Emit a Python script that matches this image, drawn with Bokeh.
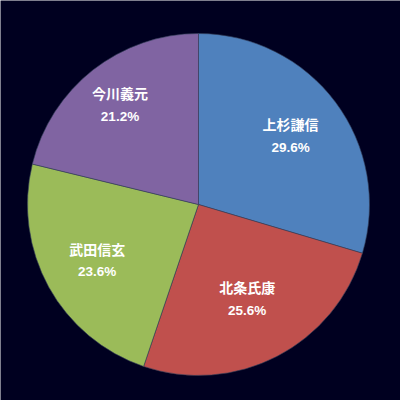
import numpy as np
from bokeh.plotting import figure
from bokeh.models import ColumnDataSource, Range1d
from bokeh.core.properties import value
from bokeh.embed import file_html
from bokeh.resources import INLINE

names = ["上杉謙信", "北条氏康", "武田信玄", "今川義元"]
shares = [29.6, 25.6, 23.6, 21.2]
colors = ["#4F81BD", "#C0504D", "#9BBB59", "#8064A2"]
pct_labels = ["29.6%", "25.6%", "23.6%", "21.2%"]

# layout / style
BG = "#000020"
W = H = 400
R_PX = 171.0
CX, CY = 198.0, 204.0  # pixel centre (from top-left)
LABEL_DIST = [0.672, 0.62, 0.676, 0.743]  # label distance as fraction of radius

vals = np.array(shares, dtype=float)
frac = vals / vals.sum()
cum_end = np.cumsum(frac) * 2 * np.pi
cum_start = cum_end - frac * 2 * np.pi
start = np.pi / 2 - cum_end
end = np.pi / 2 - cum_start
mid = (cum_start + cum_end) / 2
lr = np.array(LABEL_DIST)
src = ColumnDataSource(dict(
    start=start, end=end, color=colors, name=names, pct=pct_labels,
    lx=lr * np.sin(mid), ly=lr * np.cos(mid),
))

p = figure(width=W, height=H, output_backend="svg", toolbar_location=None,
           x_range=Range1d(-CX / R_PX, (W - CX) / R_PX),
           y_range=Range1d(-(H - CY) / R_PX, CY / R_PX),
           min_border=0, background_fill_color=BG, border_fill_color=BG,
           outline_line_color=None)
p.axis.visible = False
p.grid.visible = False

p.wedge(x=0, y=0, radius=1, start_angle="start", end_angle="end",
        fill_color="color", line_color="#33405a", line_alpha=0.6, line_width=1,
        source=src)

p.text(x="lx", y="ly", text="name", source=src, text_color="white",
       text_font=value("Noto Sans CJK JP"), text_font_style="bold",
       text_font_size="14px", text_align="center", text_baseline="middle",
       y_offset=-11.5)
p.text(x="lx", y="ly", text="pct", source=src, text_color="white",
       text_font=value("Liberation Sans"), text_font_style="bold",
       text_font_size="13.5px", text_align="center", text_baseline="middle",
       y_offset=11.5)

html = file_html(p, INLINE)
html = html.replace("<body>", '<body style="margin:0;background-color:%s;">' % BG, 1)
open("out.html", "w").write(html)
